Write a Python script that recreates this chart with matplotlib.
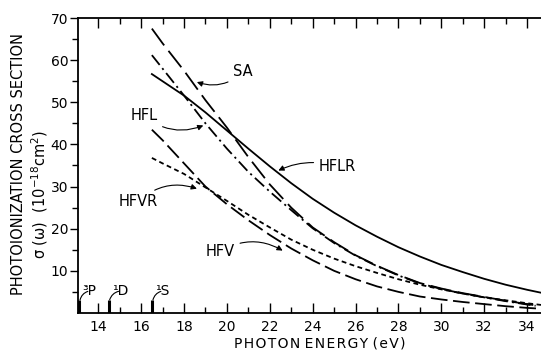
import numpy as np
import matplotlib
matplotlib.use("Agg")
import matplotlib.pyplot as plt
from matplotlib.ticker import FixedLocator

plt.rcParams['font.family'] = ['DejaVu Sans']
plt.rcParams['lines.scale_dashes'] = False

# photon energy (eV) grid
energy = [16.5, 17, 18, 19, 20, 21, 22, 23, 24, 25, 26, 27, 28, 29, 30, 31, 32, 33, 34, 34.65]
energy_sa = [16.5, 17, 18, 19, 20, 21, 22, 23, 24, 25, 26, 27, 28, 29, 30, 31, 32, 33, 34, 34.4]

# cross sections (1e-18 cm^2)
sa = [67.5, 64.0, 57.5, 50.5, 44.0, 37.0, 30.5, 25.0, 20.3, 16.8, 13.7, 11.2, 9.0, 7.1, 5.8, 4.7, 3.8, 2.9, 2.1, 1.8]
hfl = [61.2, 58.0, 51.6, 45.0, 39.0, 33.5, 28.8, 24.4, 20.1, 16.6, 13.6, 11.1, 8.9, 7.0, 5.7, 4.6, 3.7, 2.8, 2.0, 1.7]
hflr = [56.7, 55.0, 51.6, 47.6, 43.3, 39.0, 34.8, 30.8, 27.1, 23.8, 20.8, 18.1, 15.6, 13.4, 11.4, 9.7, 8.1, 6.7, 5.5, 4.8]
hfvr = [36.8, 35.5, 33.0, 29.8, 26.6, 23.3, 20.3, 17.4, 15.0, 12.9, 11.1, 9.5, 8.0, 6.7, 5.6, 4.6, 3.7, 3.0, 2.3, 1.9]
hfv = [43.5, 41.0, 35.5, 30.0, 25.8, 22.0, 18.5, 15.3, 12.5, 10.0, 8.0, 6.3, 5.0, 3.9, 3.2, 2.6, 2.1, 1.6, 1.2, 1.0]

# thresholds of the ionic states
thresholds = [13.1, 14.48, 16.5]
threshold_labels = ['³P', '¹D', '¹S']

fig = plt.figure(figsize=(5.41, 3.54), dpi=100)
ax = fig.add_axes([0.144, 0.116, 0.856, 0.833])

lw = 1.3
ax.plot(energy_sa, sa, color='k', lw=lw, dashes=(15, 5))
ax.plot(energy_sa, hfl, color='k', lw=lw, dashes=(9, 3, 1.5, 3))
ax.plot(energy, hflr, color='k', lw=lw)
ax.plot(energy, hfvr, color='k', lw=lw, dashes=(3.5, 2.5))
ax.plot(energy, hfv, color='k', lw=lw, dashes=(12, 4))

for x0 in thresholds:
    ax.plot([x0, x0], [0, 3.0], color='k', lw=2.2, solid_capstyle='butt')

arrow = dict(arrowstyle='-|>', color='k', lw=0.8, mutation_scale=8,
             shrinkA=2, shrinkB=0)
labels = [
    ('SA', (18.6, 54.8), (20.3, 57.2), 'arc3,rad=-0.3'),
    ('HFL', (18.9, 44.5), (15.5, 46.9), 'arc3,rad=0.3'),
    ('HFLR', (22.4, 33.8), (24.3, 34.7), 'arc3,rad=0.2'),
    ('HFVR', (18.6, 29.5), (14.95, 26.4), 'arc3,rad=-0.3'),
    ('HFV', (22.6, 14.8), (19.0, 14.5), 'arc3,rad=-0.3'),
]
for name, tip, pos, cs in labels:
    ax.annotate(name, xy=tip, xytext=pos, fontsize=10.5, ha='left', va='center',
                arrowprops=dict(arrow, connectionstyle=cs))

for x0, lab in zip(thresholds, threshold_labels):
    ax.annotate(lab, xy=(x0 + 0.05, 3.1), xytext=(x0 + 0.15, 5.2), fontsize=10,
                ha='left', va='center',
                arrowprops=dict(arrowstyle='-', color='k', lw=0.8,
                                connectionstyle='arc3,rad=0.3', shrinkA=1, shrinkB=0))

ax.set_xlim(13.05, 34.65)
ax.set_ylim(0, 70)

ax.xaxis.set_major_locator(FixedLocator(np.arange(14, 35, 2)))
ax.xaxis.set_minor_locator(FixedLocator(np.arange(13, 35, 2)))
ax.yaxis.set_major_locator(FixedLocator(np.arange(10, 71, 10)))
ax.yaxis.set_minor_locator(FixedLocator(np.arange(5, 70, 10)))

ax.tick_params(axis='x', which='both', direction='in', top=True, labelsize=10, pad=5)
ax.tick_params(axis='x', which='major', length=7, width=1)
ax.tick_params(axis='x', which='minor', length=4, width=1)
ax.tick_params(axis='y', which='both', direction='out', right=False, labelsize=10, pad=1)
ax.tick_params(axis='y', which='major', length=6, width=1)
ax.tick_params(axis='y', which='minor', length=4, width=1)
ax.spines['right'].set_visible(False)
for s in ['left', 'top', 'bottom']:
    ax.spines[s].set_linewidth(1.3)

hair = '\u200a'
xlabel = ' '.join(hair.join(w) for w in 'PHOTON ENERGY (eV)'.split(' '))
fig.text(0.591, 0.031, xlabel, fontsize=10, ha='center', va='center')
fig.text(0.035, 0.537, 'PHOTOIONIZATION CROSS SECTION', fontsize=10.5,
         rotation=90, ha='center', va='center')
fig.text(0.074, 0.45, 'σ (ω)  (10$^{-18}$cm$^2$)', fontsize=10.5,
         rotation=90, ha='center', va='center')

fig.savefig('out.png', dpi=100)
